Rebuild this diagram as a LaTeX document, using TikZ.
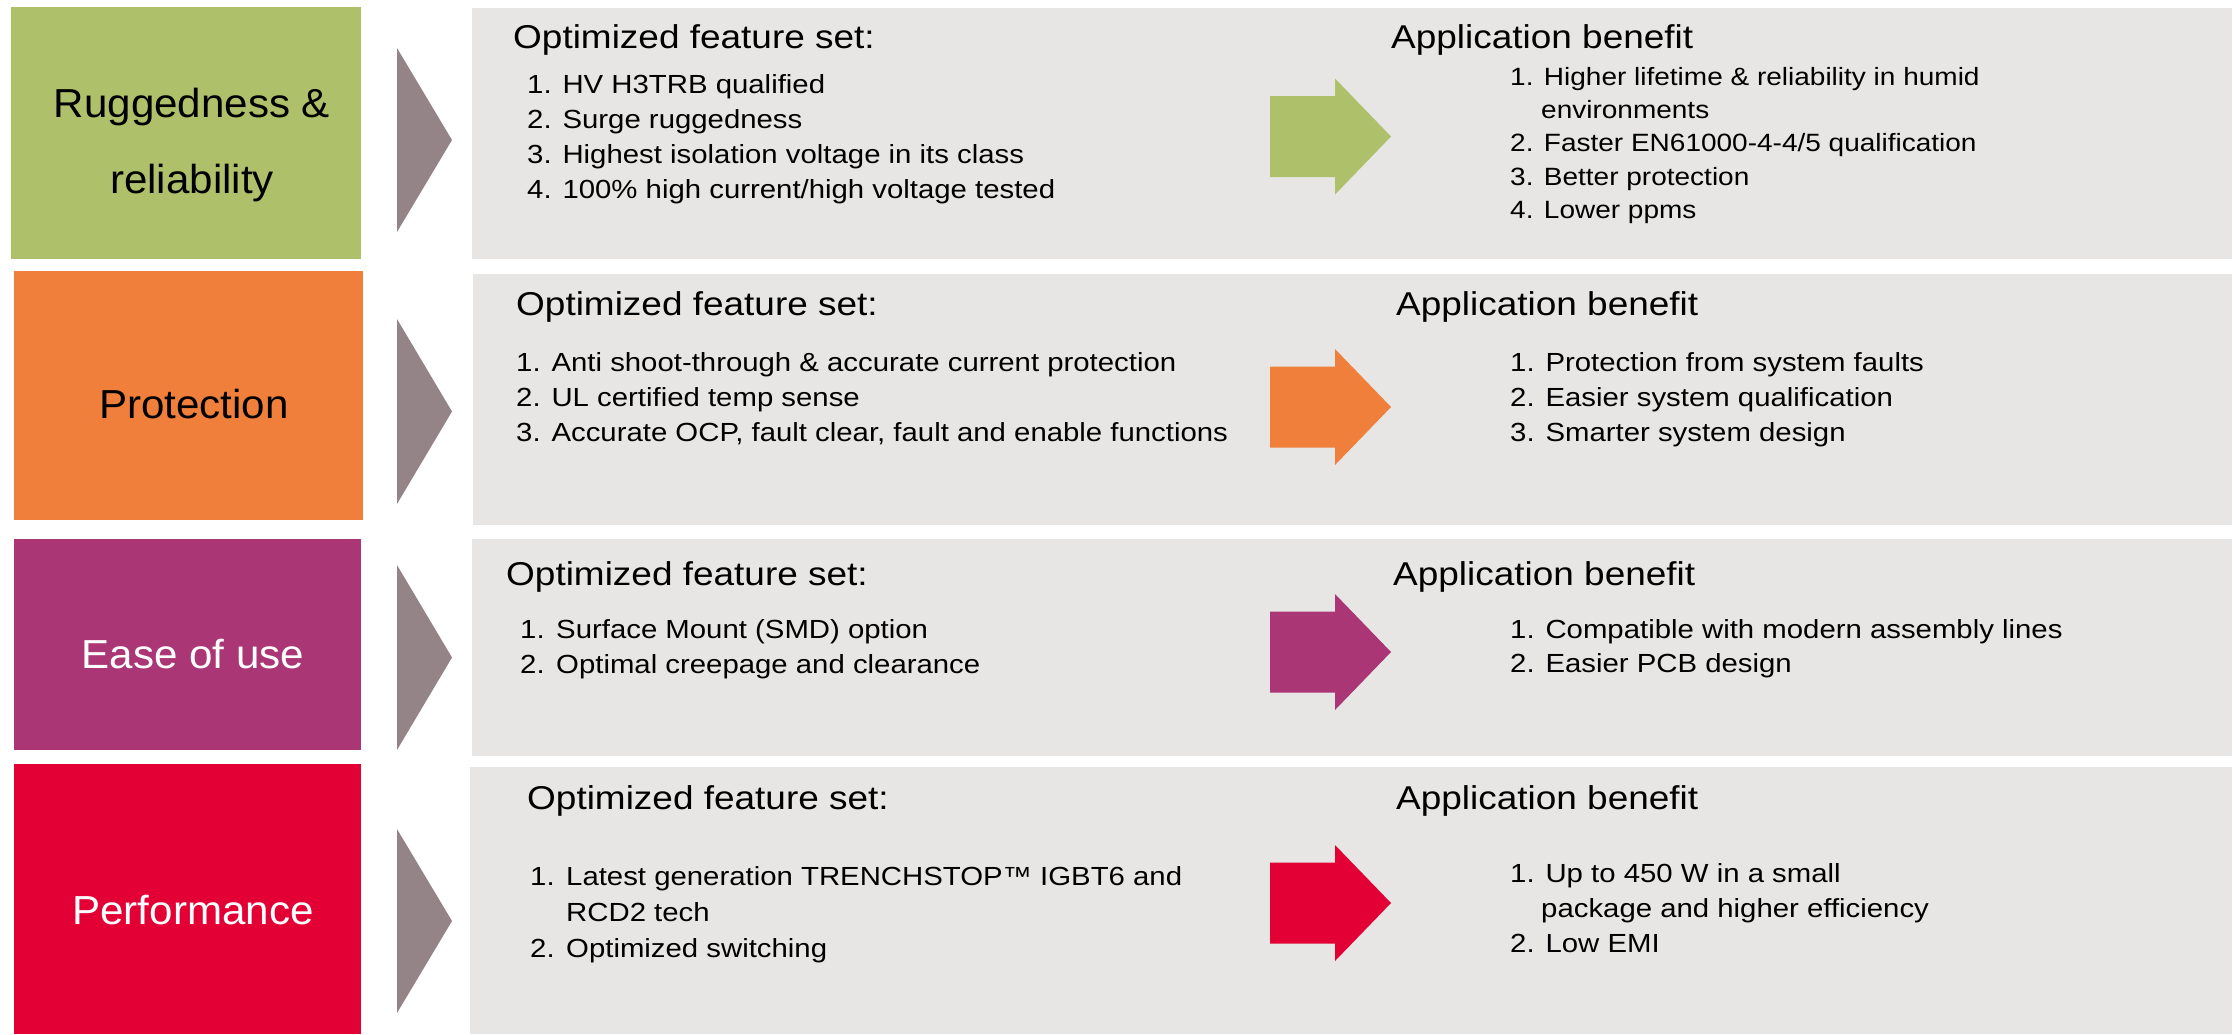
\documentclass[tikz,border=0pt]{standalone}
\usepackage{fontspec}
\setmainfont{Liberation Sans}[FakeStretch=1.12]
\newfontfamily\catlabelfont{Liberation Sans}[FakeStretch=1.04]
\definecolor{cgreen}{RGB}{174,192,106}
\definecolor{corange}{RGB}{239,127,58}
\definecolor{cmagenta}{RGB}{170,54,118}
\definecolor{cred}{RGB}{227,0,52}
\definecolor{cpanel}{RGB}{231,230,229}
\definecolor{cchev}{RGB}{148,131,135}
\newcommand\blockarrowshape[2]{%
  \fill[#1, shift={(1391,#2)}] (-121,-40.5) -- (-56,-40.5) -- (-56,-58) -- (0,0)
    -- (-56,58) -- (-56,40.5) -- (-121,40.5) -- cycle;}
\begin{document}
\begin{tikzpicture}[x=1pt,y=-1pt,
  catbox/.style={draw=none, inner sep=0pt, anchor=center},
  panel/.style={fill=cpanel, draw=none, inner sep=0pt, anchor=center},
  lbl/.style={font=\catlabelfont\fontsize{40.5}{48}\selectfont, anchor=base, inner sep=0pt},
  hd/.style={font=\fontsize{33}{40}\selectfont, anchor=base west, inner sep=0pt},
  itm/.style={font=\fontsize{26.2}{33}\selectfont, anchor=base west, inner sep=0pt},
  itms/.style={font=\fontsize{25}{33}\selectfont, anchor=base west, inner sep=0pt}]
\useasboundingbox (0,0) rectangle (2234,1034);

% category boxes
\node[catbox, fill=cgreen, minimum width=350pt, minimum height=252pt] (cat1) at (186,133) {};
\node[catbox, fill=corange, minimum width=349pt, minimum height=249pt] (cat2) at (188.5,395.5) {};
\node[catbox, fill=cmagenta, minimum width=347pt, minimum height=211pt] (cat3) at (187.5,644.5) {};
\node[catbox, fill=cred, minimum width=347pt, minimum height=270pt] (cat4) at (187.5,899) {};

% panels
\node[panel, minimum width=1760pt, minimum height=251pt] (pan1) at (1352,133.5) {};
\node[panel, minimum width=1759pt, minimum height=251pt] (pan2) at (1352.5,399.5) {};
\node[panel, minimum width=1760pt, minimum height=217pt] (pan3) at (1352,647.5) {};
\node[panel, minimum width=1762pt, minimum height=267pt] (pan4) at (1351,900.5) {};

% chevrons
\fill[cchev] (397,48) -- (452,140) -- (397,232) -- cycle;
\fill[cchev] (397,319) -- (452,411.5) -- (397,504) -- cycle;
\fill[cchev] (397,565) -- (452,657.5) -- (397,750) -- cycle;
\fill[cchev] (397,829) -- (452,921) -- (397,1013) -- cycle;

% block arrows
\blockarrowshape{cgreen}{136.5}
\blockarrowshape{corange}{407}
\blockarrowshape{cmagenta}{652}
\blockarrowshape{cred}{903}

% category labels
\node[lbl] (l1a) at (192,117) {Ruggedness \&};
\node[lbl] (l1b) at (192,193) {reliability};
\node[lbl] (l2) at (194,418) {Protection};
\node[lbl, text=white] (l3) at (193,668) {Ease of use};
\node[lbl, text=white] (l4) at (193,924) {Performance};

% row 1
\node[hd] (f1h) at (513,48) {Optimized feature set:};
\node[itm] (f1a) at (527,93) {1. HV H3TRB qualified};
\node[itm] (f1b) at (527,128) {2. Surge ruggedness};
\node[itm] (f1c) at (527,163) {3. Highest isolation voltage in its class};
\node[itm] (f1d) at (527,198) {4. 100\% high current/high voltage tested};
\node[hd] (b1h) at (1391,48) {Application benefit};
\node[itms] (b1a) at (1510,85) {1. Higher lifetime \& reliability in humid};
\node[itms] (b1a2) at (1541,118) {environments};
\node[itms] (b1b) at (1510,151) {2. Faster EN61000-4-4/5 qualification};
\node[itms] (b1c) at (1510,185) {3. Better protection};
\node[itms] (b1d) at (1510,218) {4. Lower ppms};

% row 2
\node[hd] (f2h) at (516,315) {Optimized feature set:};
\node[itm] (f2a) at (516,371) {1. Anti shoot-through \& accurate current protection};
\node[itm] (f2b) at (516,406) {2. UL certified temp sense};
\node[itm] (f2c) at (516,441) {3. Accurate OCP, fault clear, fault and enable functions};
\node[hd] (b2h) at (1396,315) {Application benefit};
\node[itm] (b2a) at (1510,371) {1. Protection from system faults};
\node[itm] (b2b) at (1510,406) {2. Easier system qualification};
\node[itm] (b2c) at (1510,441) {3. Smarter system design};

% row 3
\node[hd] (f3h) at (506,585) {Optimized feature set:};
\node[itm] (f3an) at (520,638) {1.};
\node[itm] (f3a) at (556,638) {Surface Mount (SMD) option};
\node[itm] (f3bn) at (520,673) {2.};
\node[itm] (f3b) at (556,673) {Optimal creepage and clearance};
\node[hd] (b3h) at (1393,585) {Application benefit};
\node[itm] (b3a) at (1510,638) {1. Compatible with modern assembly lines};
\node[itm] (b3b) at (1510,672) {2. Easier PCB design};

% row 4
\node[hd] (f4h) at (527,809) {Optimized feature set:};
\node[itm] (f4an) at (530,885) {1.};
\node[itm] (f4a) at (566,885) {Latest generation TRENCHSTOP™ IGBT6 and};
\node[itm] (f4a2) at (566,921) {RCD2 tech};
\node[itm] (f4bn) at (530,957) {2.};
\node[itm] (f4b) at (566,957) {Optimized switching};
\node[hd] (b4h) at (1396,809) {Application benefit};
\node[itm] (b4a) at (1510,882) {1. Up to 450 W in a small};
\node[itm] (b4a2) at (1541,917) {package and higher efficiency};
\node[itm] (b4b) at (1510,952) {2. Low EMI};
\end{tikzpicture}
\end{document}
